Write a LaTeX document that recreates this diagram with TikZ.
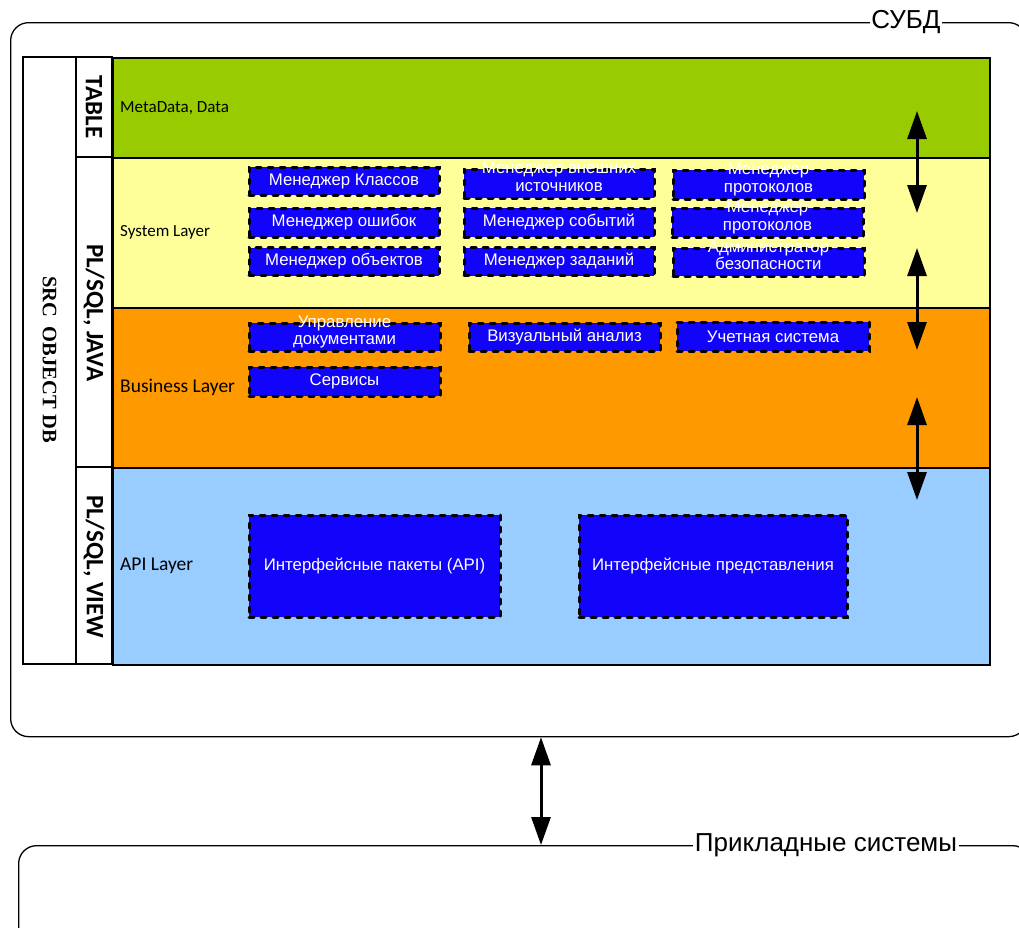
\documentclass[tikz,border=0pt]{standalone}
\usepackage{fontspec}
\setmainfont{Liberation Sans}
\newfontfamily\calibri{Carlito}
\newfontfamily\timesf{Liberation Serif}
\usetikzlibrary{arrows.meta}
\definecolor{tablegreen}{RGB}{153,204,0}
\definecolor{syscol}{RGB}{255,255,153}
\definecolor{buscol}{RGB}{255,153,0}
\definecolor{apicol}{RGB}{153,204,255}
\definecolor{boxblue}{RGB}{18,4,250}
\newcommand\twoline[2]{\smash{\begin{tabular}{@{}c@{}}#1\\#2\end{tabular}}}
\tikzset{
  frame/.style={draw, line width=1.3pt, rounded corners=18pt, anchor=north west, inner sep=0pt},
  layer/.style={draw, line width=1.5pt, anchor=north west, inner sep=0pt, minimum width=877},
  mgr/.style={draw, fill=boxblue, text=white, line width=3pt, dash pattern=on 5pt off 7pt,
    line cap=round, inner sep=0pt, font=\fontsize{16.8}{17.5}\selectfont},
  laytext/.style={anchor=west, inner sep=0pt, font=\calibri\fontsize{17}{19}\selectfont},
  coltext/.style={rotate=-90, inner sep=0pt, font=\calibri\bfseries\fontsize{25}{27}\selectfont},
  tag/.style={fill=white, inner sep=1.5pt, font=\fontsize{26}{29}\selectfont},
  biarrow/.style={{Triangle[length=28pt,width=19pt]}-{Triangle[length=28pt,width=19pt]}, line width=3pt}
}

\begin{document}
\begin{tikzpicture}[x=1pt, y=-1pt]
	\useasboundingbox (0,0) rectangle (1019,927);
	% outer frames
	\node[frame, minimum width=1016, minimum height=714] (dbms) at (10,22) {};
	\node[tag] (ldbms) at (906,22) {СУБД};
	\node[frame, minimum width=1012, minimum height=200] (apps) at (18,845) {};
	\node[tag] (lapps) at (826,845) {Прикладные системы};
	\coordinate (link) at (541,0);
	\draw[biarrow] (dbms.south -| link) -- (apps.north -| link);
	% layers
	\node[layer, fill=tablegreen, minimum height=100] (tbl) at (112,57) {};
	\node[layer, fill=syscol, minimum height=150] (sys) at (112,157) {};
	\node[layer, fill=buscol, minimum height=160] (bus) at (112,307) {};
	\node[layer, fill=apicol, minimum height=197] (api) at (112,467) {};
	\node[laytext] (lmeta) at ([xshift=8pt]tbl.west) {MetaData, Data};
	\node[laytext] (lsys) at ([xshift=8pt]sys.west) {System Layer};
	\node[laytext, font=\calibri\fontsize{19.5}{21}\selectfont] (lbus) at ([xshift=8pt]bus.west) {Business Layer};
	\node[laytext, font=\calibri\fontsize{19.5}{21}\selectfont] (lapi) at ([xshift=8pt]api.west) {API Layer};
	% left columns
	\draw[line width=1.5pt] (23,57) rectangle (112,664);
	\draw[line width=1.5pt] (76,57) -- (76,664);
	\draw[line width=1.5pt] (76,157) -- (112,157);
	\draw[line width=1.5pt] (76,467) -- (112,467);
	\node[font=\timesf\bfseries\fontsize{20.5}{22}\selectfont, rotate=-90, inner sep=0pt] (src) at (49.5,360) {SRC\hspace{0.45em}OBJECT\hspace{0.3em}DB};
	\node[coltext] (ctable) at (94,107) {TABLE};
	\node[coltext] (cjava) at (94,313) {PL/SQL, JAVA};
	\node[coltext] (cview) at (94,567) {PL/SQL, VIEW};
	% system layer
	\node[mgr, minimum width=190, minimum height=28] (kcls) at (344,181) {Менеджер Классов};
	\node[mgr, minimum width=190, minimum height=29] (kext) at (559,183.5) {\twoline{Менеджер внешних}{источников}};
	\node[mgr, minimum width=191, minimum height=29] (kprot) at (768.5,184.5) {\twoline{Менеджер}{протоколов}};
	\node[mgr, minimum width=190, minimum height=29] (kerr) at (344,222.5) {Менеджер ошибок};
	\node[mgr, minimum width=190, minimum height=29] (kevt) at (559,222.5) {Менеджер событий};
	\node[mgr, minimum width=191, minimum height=29] (kprot2) at (767.5,222.5) {\twoline{Менеджер}{протоколов}};
	\node[mgr, minimum width=190, minimum height=28] (kobj) at (344,261.5) {Менеджер объектов};
	\node[mgr, minimum width=190, minimum height=28] (kjob) at (559,261.5) {Менеджер заданий};
	\node[mgr, minimum width=191, minimum height=28] (ksec) at (768.5,262) {\twoline{Администратор}{безопасности}};
	% business layer
	\node[mgr, minimum width=191, minimum height=28] (bdoc) at (344.5,337) {\twoline{Управление}{документами}};
	\node[mgr, minimum width=191, minimum height=28] (bvis) at (564.5,337) {Визуальный анализ};
	\node[mgr, minimum width=192, minimum height=29] (bacc) at (773,336.5) {Учетная система};
	\node[mgr, minimum width=191, minimum height=29] (bsrv) at (344.5,381.5) {Сервисы};
	% api layer
	\node[mgr, minimum width=251, minimum height=102] (apkg) at (374.5,566) {Интерфейсные пакеты (API)};
	\node[mgr, minimum width=268, minimum height=102] (aview) at (713,566) {Интерфейсные представления};
	% arrows between layers
	\foreach \i/\t/\b in {1/111/213, 2/248/350, 3/397/500} {
		\coordinate (s\i) at (917,\t);
		\coordinate (e\i) at (917,\b);
		\draw[biarrow] (s\i) -- (e\i);
	}
\end{tikzpicture}
\end{document}
